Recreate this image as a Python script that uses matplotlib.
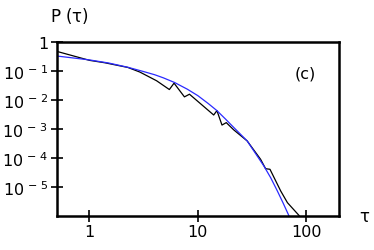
import matplotlib
matplotlib.use("Agg")
import matplotlib.pyplot as plt
from matplotlib.ticker import FixedLocator, NullLocator

# black curve (data)
tau_data = [0.497, 1.0, 1.38, 2.26, 2.91, 4.16, 5.46, 6.03, 7.52, 8.37, 14.0,
            15.0, 16.7, 18.3, 21.4, 28.5, 37.9, 42.2, 46.3, 58.2, 67.1, 86.1]
p_data = [0.475, 0.232, 0.192, 0.132, 0.092, 0.046, 0.0229, 0.038, 0.0128,
          0.0158, 0.00304, 0.0043, 0.00137, 0.00166, 9.4e-4, 3.9e-4, 9.1e-5,
          4.3e-5, 4.1e-5, 7.3e-6, 2.9e-6, 1.04e-6]

# blue curve (fit)
tau_fit = [0.497, 1.0, 1.5, 2.26, 3.2, 4.0, 4.8, 6.1, 8.0, 10.0, 12.5, 15.0,
           18.0, 21.4, 28.5, 34.0, 40.7, 47.0, 54.2, 61.0, 69.5]
p_fit = [0.328, 0.240, 0.188, 0.134, 0.094, 0.074, 0.058, 0.040, 0.0235,
         0.0141, 0.0075, 0.0043, 0.0022, 0.00114, 3.9e-4, 1.45e-4, 5.3e-5,
         2.1e-5, 7.3e-6, 2.9e-6, 1e-6]

x_ticks = [1, 10, 100]
x_labels = ['1', '10', '100']
y_ticks = [1, 1e-1, 1e-2, 1e-3, 1e-4, 1e-5]
y_labels = ['1', r'$10^{\,-\,1}$', r'$10^{\,-\,2}$', r'$10^{\,-\,3}$',
            r'$10^{\,-\,4}$', r'$10^{\,-\,5}$']

plt.rcParams['mathtext.default'] = 'regular'
plt.rcParams['font.family'] = 'DejaVu Sans'

fig = plt.figure(figsize=(3.74, 2.51), dpi=100)
ax = fig.add_axes([0.152, 0.135, 0.754, 0.694])

ax.plot(tau_data, p_data, color='black', linewidth=0.9)
ax.plot(tau_fit, p_fit, color='#2a2aff', linewidth=0.9)

ax.set_xscale('log')
ax.set_yscale('log')
ax.set_xlim(0.5, 200)
ax.set_ylim(1e-6, 1)

ax.xaxis.set_major_locator(FixedLocator(x_ticks))
ax.xaxis.set_minor_locator(NullLocator())
ax.set_xticklabels(x_labels)
ax.yaxis.set_major_locator(FixedLocator(y_ticks))
ax.yaxis.set_minor_locator(NullLocator())
ax.set_yticklabels(y_labels)

ax.tick_params(direction='inout', length=8, width=1.2, labelsize=11.5,
               pad=2)
for s in ax.spines.values():
    s.set_linewidth(1.8)

ax.text(0.92, 0.82, '(c)', transform=ax.transAxes, fontsize=11.5,
        ha='right', va='center')
fig.text(0.135, 0.935, r'P ($\tau$)', fontsize=12, ha='left', va='center')
fig.text(0.99, 0.135, r'$\tau$', fontsize=12, ha='right', va='center')

fig.savefig('out.png', dpi=100)
